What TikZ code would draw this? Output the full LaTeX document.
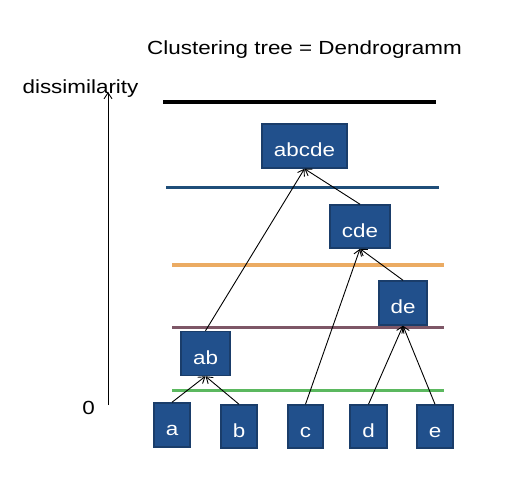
\documentclass[tikz,border=0pt]{standalone}
\usepackage{fontspec}
\setmainfont{Liberation Sans}[FakeStretch=1.18]
\usetikzlibrary{arrows.meta}
\definecolor{clusterblue}{HTML}{21508C}
\definecolor{clusteredge}{HTML}{1A3D6A}
\definecolor{levelblue}{HTML}{1F4E79}
\definecolor{levelorange}{HTML}{EBAB63}
\definecolor{levelmauve}{HTML}{7E5767}
\definecolor{levelgreen}{HTML}{5BB85F}
\tikzset{
  cluster/.style={draw=clusteredge, fill=clusterblue, line width=1.5pt,
    text=white, inner sep=0pt, text height=21pt, text depth=0pt},
  level/.style={line width=3pt},
  merge/.style={-{Straight Barb[length=6pt,width=8pt]}, line width=0.9pt}
}
\begin{document}
\begin{tikzpicture}[x=1pt, y=-1pt, font=\fontsize{19}{22}\selectfont]
  \useasboundingbox (0,0) rectangle (526,490);

  \node[anchor=base] (title) at (304.5,54) {Clustering tree = Dendrogramm};
  \node[anchor=base] (dissim) at (80.5,93) {dissimilarity};
  \node[anchor=base] (zero) at (88.5,414) {0};

  % dissimilarity axis
  \coordinate (axis0) at (108,405);
  \coordinate (axis1) at (108,92);
  \draw[merge] (axis0) to (axis1);

  % cut levels
  \draw[level, line width=4pt, black] (163,102) -- (436,102);
  \draw[level, levelblue] (166,187) -- (439,187);
  \draw[level, line width=4pt, levelorange] (172,265) -- (444,265);
  \draw[level, levelmauve] (172,327) -- (444,327);
  \draw[level, levelgreen] (172,390) -- (444,390);

  \node[cluster, minimum width=85pt, minimum height=44pt] (abcde) at (304.5,146) {abcde};
  \node[cluster, minimum width=60pt, minimum height=43pt] (cde) at (360,226.5) {cde};
  \node[cluster, minimum width=48pt, minimum height=44pt] (de) at (403,303) {de};
  \node[cluster, minimum width=49pt, minimum height=44pt] (ab) at (205.5,353.5) {ab};
  \node[cluster, minimum width=36pt, minimum height=44pt] (a) at (172,425) {a};
  \node[cluster, minimum width=36pt, minimum height=43pt] (b) at (239,426.5) {b};
  \node[cluster, minimum width=35pt, minimum height=43pt] (c) at (305.5,426.5) {c};
  \node[cluster, minimum width=37pt, minimum height=43pt] (d) at (368.5,426.5) {d};
  \node[cluster, minimum width=36pt, minimum height=43pt] (e) at (435,426.5) {e};

  \draw[merge] (a.north) to (ab.south);
  \draw[merge] (b.north) to (ab.south);
  \draw[merge] (d.north) to (de.south);
  \draw[merge] (e.north) to (de.south);
  \draw[merge] (c.north) to (cde.south);
  \draw[merge] (de.north) to (cde.south);
  \draw[merge] (ab.north) to (abcde.south);
  \draw[merge] (cde.north) to (abcde.south);
\end{tikzpicture}
\end{document}
